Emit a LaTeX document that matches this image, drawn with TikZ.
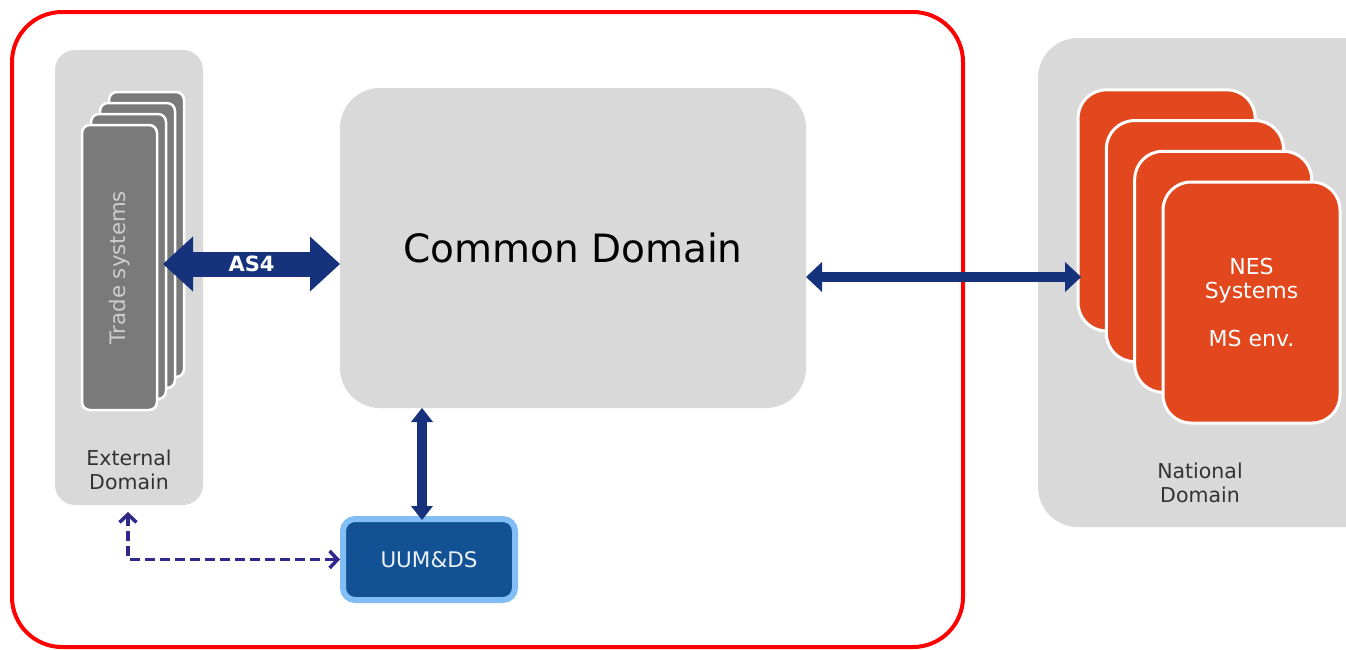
\documentclass[tikz,border=0pt]{standalone}
\usepackage{fontspec}
\setmainfont{DejaVu Sans}
\usetikzlibrary{arrows.meta}

\definecolor{framered}{RGB}{255,0,0}
\definecolor{boxgray}{RGB}{217,217,217}
\definecolor{cardgray}{RGB}{122,122,122}
\definecolor{tradetext}{RGB}{205,205,205}
\definecolor{navy}{RGB}{22,50,125}
\definecolor{nesorange}{RGB}{226,71,29}
\definecolor{uumblue}{RGB}{18,82,148}
\definecolor{uumglow}{RGB}{130,190,245}
\definecolor{dashblue}{RGB}{48,40,140}

\begin{document}
\begin{tikzpicture}[x=1pt,y=-1pt,
    every node/.style={inner sep=0pt,outer sep=0pt},
    area/.style={fill=boxgray,rounded corners=#1},
    tradecard/.style={fill=cardgray,draw=white,line width=2.5pt,rounded corners=8pt,
      minimum width=75pt,minimum height=285pt},
    nescard/.style={fill=nesorange,draw=white,line width=3pt,rounded corners=28pt,
      minimum width=177pt,minimum height=241pt},
    areatext/.style={font=\fontsize{20.5}{24}\selectfont,text=black!80,align=center},
    bigarrow/.style={navy,line width=#1}]
  \useasboundingbox (0,0) rectangle (1346,649);
  \clip (0,0) rectangle (1346,649);

  % frame of the common part
  \node[draw=framered,line width=4pt,rounded corners=50pt,
    minimum width=951pt,minimum height=635pt] (core) at (487.5,329.5) {};

  % domains
  \node[area=20pt,minimum width=148pt,minimum height=455pt] (ext) at (129,277.5) {};
  \node[area=40pt,minimum width=466pt,minimum height=320pt,
    font=\fontsize{39}{46}\selectfont] (common) at (573,248) {Common Domain};
  \node[area=40pt,minimum width=352pt,minimum height=489pt] (nat) at (1214,282.5) {};
  \node[areatext] (exttext) at ([yshift=35pt]ext.south) {External\\Domain};
  \node[areatext] (nattext) at (1200,483) {National\\Domain};

  % trade systems stack
  \foreach \i in {3,2,1}
    \node[tradecard] (trade\i) at ({119.5+9*\i},{267.5-11*\i}) {};
  \node[tradecard,font=\fontsize{21.3}{24}\selectfont,text=tradetext] (trade)
    at (119.5,267.5) {\rotatebox{90}{Trade systems}};

  % national systems stack
  \foreach \i in {3,2,1}
    \node[nescard] (nes\i) at ({1251.5-28.3*\i},{302.5-30.7*\i}) {};
  \node[nescard,font=\fontsize{22}{24}\selectfont,text=white,align=center] (nes)
    at (1251.5,302.5) {NES\\Systems\\[24pt]MS env.};

  % user management
  \node[fill=uumblue,draw=uumglow,line width=6pt,rounded corners=12pt,
    minimum width=172pt,minimum height=81pt,text=white!92!uumblue,
    font=\fontsize{21.5}{24}\selectfont] (uum) at (429,559.5) {UUM\&DS};

  % connections
  \coordinate (as4l) at ([xshift=6pt,yshift=3.5pt]trade.east);
  \draw[bigarrow=25pt,{Triangle[length=30pt,width=55pt,line width=0pt]}-{Triangle[length=30pt,width=55pt,line width=0pt]}]
    (as4l) -- node[text=white,font=\bfseries\fontsize{21}{24}\selectfont] {AS4} (as4l -| common.west);
  \coordinate (cdr) at ([yshift=-29pt]common.east);
  \coordinate (nesl) at ([xshift=3pt]nes3.west);
  \draw[bigarrow=10pt,{Triangle[length=16pt,width=30pt,line width=0pt]}-{Triangle[length=16pt,width=30pt,line width=0pt]}]
    (cdr) -- (cdr -| nesl);
  \coordinate (uumtop) at ([xshift=-7pt,yshift=-1pt]uum.north);
  \draw[bigarrow=10pt,{Triangle[length=14pt,width=22pt,line width=0pt]}-{Triangle[length=14pt,width=22pt,line width=0pt]}]
    (common.south -| uumtop) -- (uumtop);
  \coordinate (extdash) at ([xshift=-1pt,yshift=-7pt]ext.south);
  \draw[dashblue,line width=3.5pt,dash pattern=on 10pt off 5pt,
    {Straight Barb[length=8pt,width=17pt]}-{Straight Barb[length=8pt,width=17pt]}]
    (extdash) |- ([xshift=-3pt]uum.west);
\end{tikzpicture}
\end{document}
